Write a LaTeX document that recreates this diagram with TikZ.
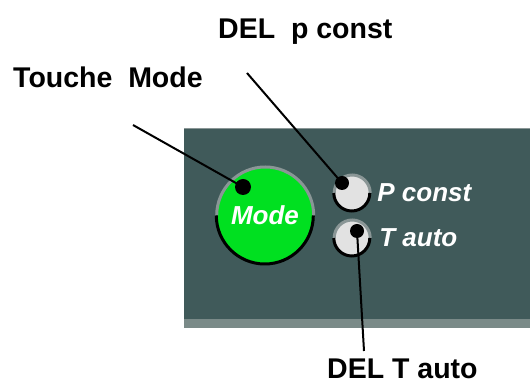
\documentclass[tikz,border=0pt]{standalone}
\usepackage{fontspec}
\setmainfont{Liberation Sans}
\usepackage{tikz}
\usetikzlibrary{positioning}

\definecolor{panel}{HTML}{405A5A}
\definecolor{panelstrip}{HTML}{7A8A88}
\definecolor{rimgray}{HTML}{8A9696}
\definecolor{btngreen}{HTML}{00E020}
\definecolor{ledgray}{HTML}{E2E2E2}

\begin{document}
\begin{tikzpicture}[
    x=1pt, y=1pt,
    lbl/.style={anchor=base west, inner sep=0pt, font=\fontsize{28.5}{32}\selectfont\bfseries},
    paneltxt/.style={inner sep=0pt, text=white, font=\fontsize{26}{30}\selectfont\bfseries\itshape},
    modebtn/.style={circle, fill=btngreen, minimum size=97pt, inner sep=0pt, paneltxt},
    led/.style={circle, fill=ledgray, minimum size=36pt, inner sep=0pt},
    dot/.style={circle, fill=black, inner sep=0pt},
    ptr/.style={line width=2pt}
]
\useasboundingbox (0,0) rectangle (530,385);

% panel
\fill[panelstrip] (184,57) rectangle (530,67);
\fill[panel] (184,66) rectangle (530,257);
\draw[rimgray, line width=0.8pt] (184,257) -- (530,257);

% mode key
\node[modebtn] (mode) at (265,169.5) {Mode};
\draw[rimgray, line width=3pt] (mode.east) arc[start angle=0, end angle=180, radius=48.5];
\draw[black, line width=3pt] (mode.west) arc[start angle=180, end angle=360, radius=48.5];

% leds
\node[led] (pled) at (352,192) {};
\draw[rimgray, line width=3pt] (pled.east) arc[start angle=0, end angle=180, radius=18];
\draw[black, line width=3pt] (pled.west) arc[start angle=180, end angle=360, radius=18];
\node[led] (tled) at (352,147) {};
\draw[rimgray, line width=3pt] (tled.east) arc[start angle=0, end angle=180, radius=18];
\draw[black, line width=3pt] (tled.west) arc[start angle=180, end angle=360, radius=18];

\node[paneltxt, right=7pt of pled] (ptxt) {P const};
\node[paneltxt, right=9pt of tled] (ttxt) {T auto};

% dots
\node[dot, minimum size=16pt] (mdot) at (243,198) {};
\node[dot, minimum size=14pt] (pdot) at (342,202) {};
\node[dot, minimum size=14pt] (tdot) at (357,154) {};

% labels
\node[lbl] (lblmode) at (13,297) {Touche\ \ Mode};
\node[lbl] (lblp) at (218,346) {DEL\ \ p const};
\node[lbl] (lblt) at (327,6) {DEL T auto};

\coordinate (mstart) at (133,260);
\coordinate (pstart) at (247,312);
\coordinate (tend) at (364,34);

\draw[ptr] (mstart) -- (mdot.center);
\draw[ptr] (pstart) -- (pdot.center);
\draw[ptr] (tdot.center) -- (tend);
\end{tikzpicture}
\end{document}
